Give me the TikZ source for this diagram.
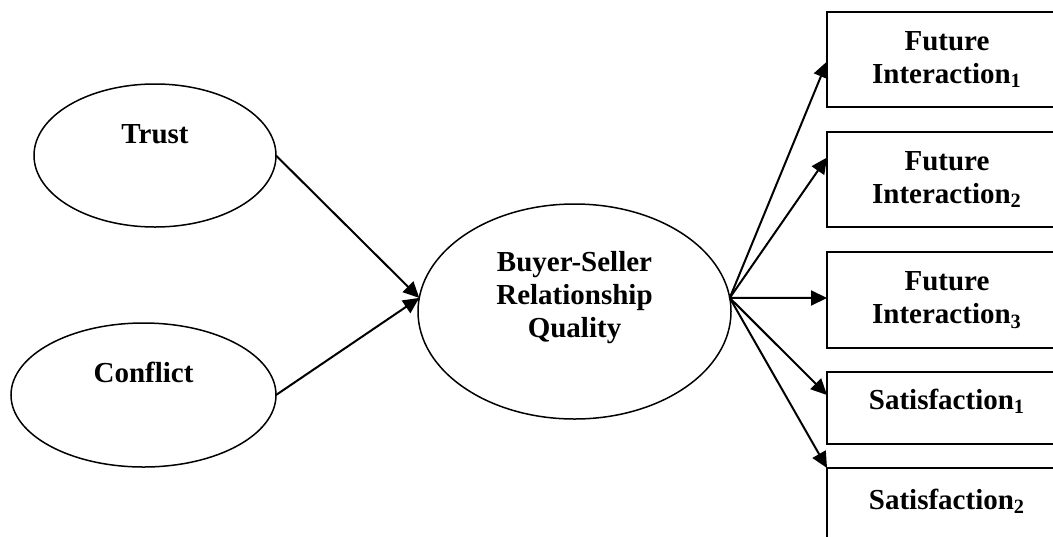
\documentclass[tikz,border=0pt]{standalone}
\usepackage{fontspec}
\setmainfont{Liberation Serif}
\usepackage{tikz}
\usetikzlibrary{arrows.meta, shapes.geometric}

\newcommand{\labelfont}{\bfseries\fontsize{14.5}{16.5}\selectfont}

\tikzset{
    construct/.style={draw, ellipse, line width=0.75pt, inner sep=0pt, outer sep=0pt},
    indicator/.style={draw, rectangle, line width=1pt, minimum width=120pt,
        inner sep=0pt, outer sep=0pt, align=center, font=\labelfont},
    oneline/.style={text depth=9pt},
    link/.style={line width=1pt, -{Triangle[length=8pt, width=7.5pt]}}
}

\begin{document}
\begin{tikzpicture}[x=0.5pt, y=-0.5pt]

    % 1. Page area (the boxes run off the right edge)
    \clip (0,0) rectangle (1053,536);

    % 2. The three constructs and their names
    \node[construct, minimum width=121pt, minimum height=71.5pt] (trust) at (155,155.5) {};
    \node[construct, minimum width=132.5pt, minimum height=72pt] (conflict) at (143.5,395) {};
    \node[construct, minimum width=156.5pt, minimum height=107.5pt] (bsrq) at (574.5,311.5) {};

    \node[font=\labelfont, anchor=base] (trusttxt) at (155,143) {Trust};
    \node[font=\labelfont, anchor=base] (conflicttxt) at (143.5,382) {Conflict};
    \node[font=\labelfont, align=center] (bsrqtxt) at (574.5,298) {Buyer-Seller\\Relationship\\Quality};

    % 3. Indicator boxes
    \node[indicator, minimum height=47.5pt] (fi1) at (947,59.5) {Future\\Interaction\textsubscript{1}};
    \node[indicator, minimum height=47.5pt] (fi2) at (947,179.5) {Future\\Interaction\textsubscript{2}};
    \node[indicator, minimum height=48pt] (fi3) at (947,300) {Future\\Interaction\textsubscript{3}};
    \node[indicator, oneline, minimum height=36pt] (sat1) at (947,408) {Satisfaction\textsubscript{1}};
    \node[indicator, oneline, minimum height=40pt] (sat2) at (947,508) {Satisfaction\textsubscript{2}};

    % 4. Paths into relationship quality
    \draw[link] (trust.east) -- (bsrq.175);
    \draw[link] (conflict.east) -- (bsrq.175);

    % 5. Paths out to the indicators
    \foreach \ind/\dy in {fi1/-1pt, fi2/11pt, fi3/1pt, sat1/6.5pt}
        \draw[link] (bsrq.5) -- ([yshift=\dy]\ind.west);
    \draw[link] (bsrq.5) -- (sat2.north west);

\end{tikzpicture}
\end{document}
